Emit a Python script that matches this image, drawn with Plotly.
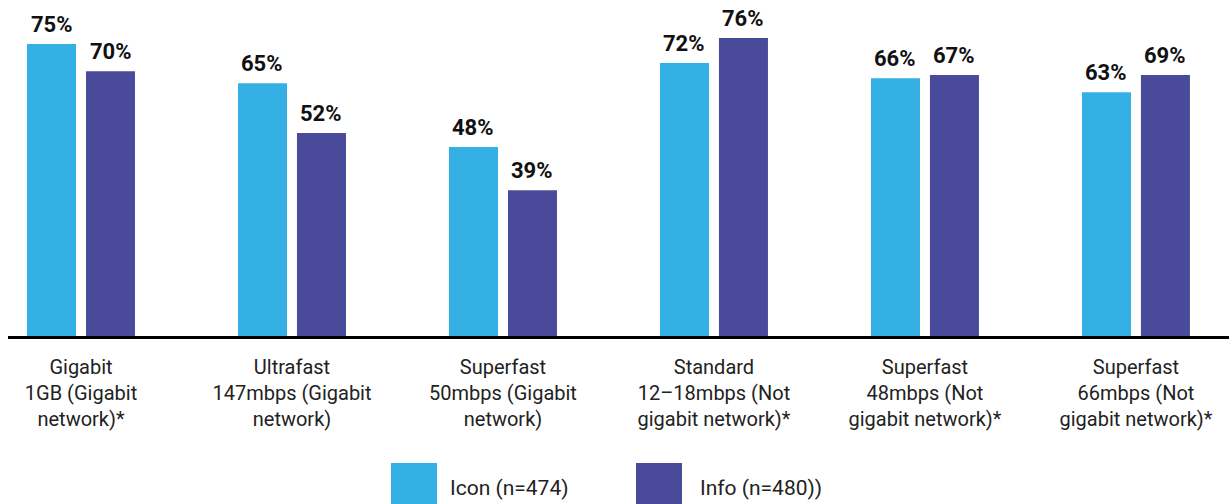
import plotly.graph_objects as go

categories = [
    "Gigabit<br>1GB (Gigabit<br>network)*",
    "Ultrafast<br>147mbps (Gigabit<br>network)",
    "Superfast<br>50mbps (Gigabit<br>network)",
    "Standard<br>12–18mbps (Not<br>gigabit network)*",
    "Superfast<br>48mbps (Not<br>gigabit network)*",
    "Superfast<br>66mbps (Not<br>gigabit network)*",
]
# bar heights as drawn in the picture
icon_values = [75.1, 65.0, 48.6, 70.2, 66.3, 62.7]
info_values = [68.1, 52.2, 37.5, 76.6, 67.1, 67.1]
# printed labels
icon_labels = ["75%", "65%", "48%", "72%", "66%", "63%"]
info_labels = ["70%", "52%", "39%", "76%", "67%", "69%"]
series_names = ["Icon (n=474)", "Info (n=480))"]
colors = ["#35B0E5", "#4A4A9A"]

x_idx = list(range(len(categories)))

fig = go.Figure()
for name, vals, col in zip(series_names, [icon_values, info_values], colors):
    fig.add_trace(go.Bar(
        x=x_idx, y=vals, name=name, marker=dict(color=col, line=dict(width=0)),
        showlegend=False, hoverinfo="skip",
    ))

# value labels above the bars
for shift, vals, labs in [(-29.5, icon_values, icon_labels), (29.5, info_values, info_labels)]:
    for xi, v, t in zip(x_idx, vals, labs):
        fig.add_annotation(x=xi, y=v, text=t, showarrow=False, xshift=shift, yshift=5,
                           xanchor="center", yanchor="bottom",
                           font=dict(family="Roboto", size=22, color="#111111", weight="bold"))

W, H = 1229, 504
ml, mr, mt, mb = 8, 0, 0, 168

fig.update_layout(
    width=W, height=H,
    margin=dict(l=ml, r=mr, t=mt, b=mb),
    paper_bgcolor="white", plot_bgcolor="white",
    barmode="group", bargap=0.441, bargroupgap=0.169,
    showlegend=False,
    font=dict(family="Roboto", color="#222222"),
    xaxis=dict(
        range=[-0.346, 5.441], tickmode="array", tickvals=x_idx, ticktext=categories,
        showline=True, linecolor="black", linewidth=3, showgrid=False, zeroline=False,
        ticks="", tickfont=dict(family="Roboto", size=20, color="#222222"),
        ticklabelstandoff=11,
    ),
    yaxis=dict(range=[0, 86.4], visible=False, showgrid=False, zeroline=False),
)

# legend drawn with shapes/annotations (paper coords)
def px_x(x):
    return (x - ml) / (W - ml - mr)

def px_y(y):
    return (H - mb - y) / (H - mt - mb)

legend_items = [(391, 448), (636, 698)]
for (sx, tx), name, col in zip(legend_items, series_names, colors):
    fig.add_shape(type="rect", xref="paper", yref="paper",
                  x0=px_x(sx), x1=px_x(sx + 46), y0=px_y(504), y1=px_y(463),
                  fillcolor=col, line=dict(width=0))
    fig.add_annotation(xref="paper", yref="paper", x=px_x(tx), y=px_y(488),
                       text=name, showarrow=False, xanchor="left", yanchor="middle",
                       font=dict(family="Roboto", size=21, color="#222222"))

fig.write_html("out.html", config={"displayModeBar": False},
               post_script="document.body.style.margin='0';document.body.style.overflow='hidden';")
